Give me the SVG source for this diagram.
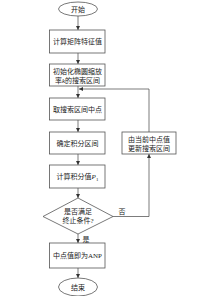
<svg xmlns="http://www.w3.org/2000/svg" width="220" height="296" viewBox="0 0 220 296">
<defs>
<marker id="ah" viewBox="0 0 6 6" refX="6" refY="3" markerWidth="4" markerHeight="4" orient="auto" markerUnits="userSpaceOnUse">
<path d="M0,0 L6,3 L0,6 Z" fill="#333"/>
</marker>
<style>
.n{fill:#fff;stroke:#555;stroke-width:0.8}
.t{font-family:"Liberation Serif","Noto Sans CJK SC",serif;font-size:7px;fill:#222;text-anchor:middle}
.c{fill:none;stroke:#444;stroke-width:0.7}
</style>
</defs>
<rect width="220" height="296" fill="#fff"/>
<g id="connectors">
<line class="c" x1="78" y1="16" x2="78" y2="30" marker-end="url(#ah)"/>
<line class="c" x1="78" y1="53" x2="78" y2="64" marker-end="url(#ah)"/>
<line class="c" x1="78" y1="86" x2="78" y2="98" marker-end="url(#ah)"/>
<line class="c" x1="78" y1="120" x2="78" y2="132" marker-end="url(#ah)"/>
<line class="c" x1="78" y1="154" x2="78" y2="165" marker-end="url(#ah)"/>
<line class="c" x1="78" y1="188" x2="78" y2="198" marker-end="url(#ah)"/>
<line class="c" x1="78" y1="234" x2="78" y2="243" marker-end="url(#ah)"/>
<line class="c" x1="78" y1="268" x2="78" y2="278" marker-end="url(#ah)"/>
<polyline class="c" points="113,216.5 149,216.5 149,154" marker-end="url(#ah)"/>
<polyline class="c" points="149,132 149,89 79,89" marker-end="url(#ah)"/>
<text class="t" x="122" y="214">否</text>
<text class="t" x="86" y="242">是</text>
</g>
<g id="start">
<ellipse class="n" cx="78" cy="9" rx="19.5" ry="7"/>
<text class="t" x="78" y="11.5">开始</text>
</g>
<g id="n1">
<rect class="n" x="49.5" y="30" width="55.5" height="23"/>
<text class="t" x="77.5" y="44">计算矩阵特征值</text>
</g>
<g id="n2">
<rect class="n" x="49.5" y="64" width="55.5" height="22"/>
<text class="t" x="77.5" y="73.5">初始化椭圆缩放</text>
<text class="t" x="77.5" y="82.5">率<tspan font-style="italic">k</tspan>的搜索区间</text>
</g>
<g id="n3">
<rect class="n" x="49.5" y="98" width="55.5" height="22"/>
<text class="t" x="77.5" y="111.5">取搜索区间中点</text>
</g>
<g id="n4">
<rect class="n" x="49.5" y="132" width="55.5" height="22"/>
<text class="t" x="77.5" y="145.5">确定积分区间</text>
</g>
<g id="n5">
<rect class="n" x="49.5" y="165" width="55.5" height="23"/>
<text class="t" x="77.5" y="179">计算积分值<tspan font-style="italic">P</tspan><tspan font-size="5" dy="1.5">1</tspan></text>
</g>
<g id="decision">
<polygon class="n" points="78,198 113,216.5 78,234 43,216.5"/>
<text class="t" x="78" y="214">是否满足</text>
<text class="t" x="78" y="223">终止条件?</text>
</g>
<g id="update">
<rect class="n" x="122" y="132" width="54" height="22"/>
<text class="t" x="149" y="141.5">由当前中点值</text>
<text class="t" x="149" y="150.5">更新搜索区间</text>
</g>
<g id="n6">
<rect class="n" x="49.5" y="243" width="55.5" height="25"/>
<text class="t" x="77.5" y="258">中点值即为ANP</text>
</g>
<g id="end">
<ellipse class="n" cx="78" cy="287" rx="19.5" ry="9"/>
<text class="t" x="78" y="289.5">结束</text>
</g>
</svg>
